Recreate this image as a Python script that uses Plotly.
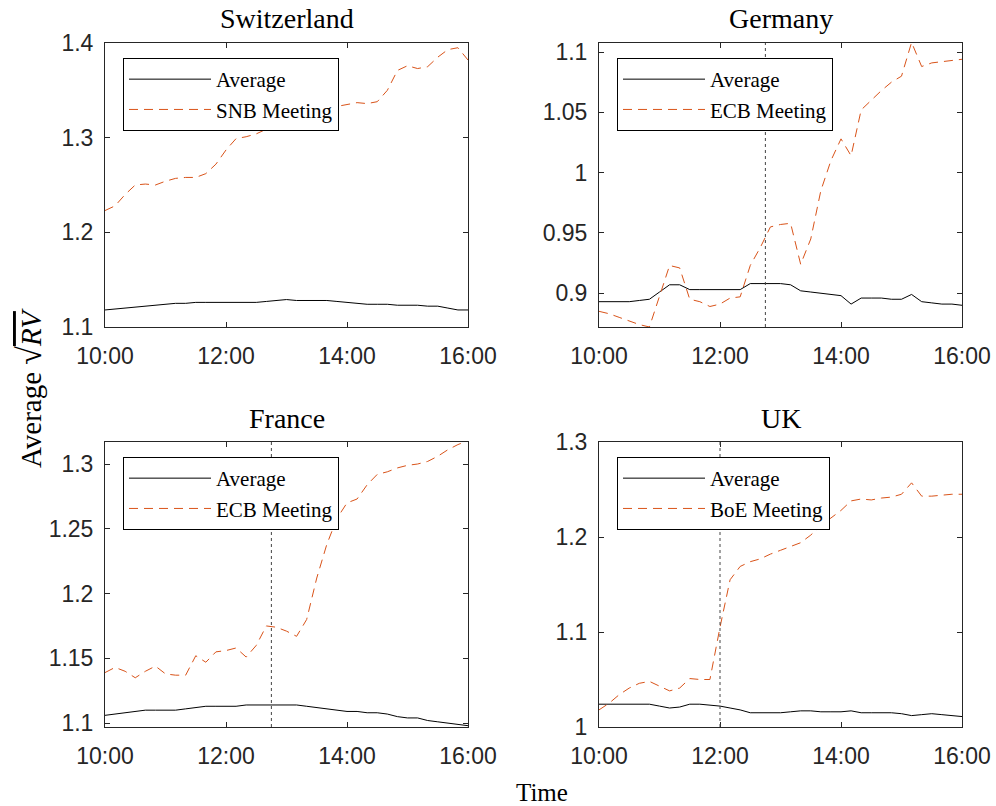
import plotly.graph_objects as go
from datetime import datetime, timedelta

# ---------------- data ----------------
time_labels = ["10:00", "12:00", "14:00", "16:00"]
start = datetime(2000, 1, 1, 10, 0)
times = [start + timedelta(minutes=10 * i) for i in range(37)]

che_avg = [1.118, 1.119, 1.120, 1.121, 1.122, 1.123, 1.124, 1.125, 1.125, 1.126, 1.126, 1.126,
           1.126, 1.126, 1.126, 1.126, 1.127, 1.128, 1.129, 1.128, 1.128, 1.128, 1.128, 1.127,
           1.126, 1.125, 1.124, 1.124, 1.124, 1.123, 1.123, 1.123, 1.122, 1.122, 1.120, 1.118, 1.118]
che_snb = [1.223, 1.228, 1.240, 1.250, 1.251, 1.250, 1.254, 1.257, 1.258, 1.258, 1.262, 1.272,
           1.287, 1.299, 1.301, 1.304, 1.309, 1.314, 1.320, 1.323, 1.326, 1.329, 1.331, 1.333,
           1.335, 1.337, 1.336, 1.338, 1.350, 1.371, 1.376, 1.373, 1.375, 1.385, 1.393, 1.395, 1.382]

deu_avg = [0.893, 0.893, 0.893, 0.893, 0.894, 0.895, 0.901, 0.907, 0.907, 0.903, 0.903, 0.903,
           0.903, 0.903, 0.903, 0.908, 0.908, 0.908, 0.908, 0.907, 0.902, 0.901, 0.900, 0.899,
           0.898, 0.891, 0.896, 0.896, 0.896, 0.895, 0.895, 0.899, 0.893, 0.892, 0.891, 0.891, 0.890]
deu_ecb = [0.885, 0.883, 0.880, 0.877, 0.874, 0.872, 0.897, 0.923, 0.921, 0.895, 0.893, 0.889,
           0.891, 0.896, 0.897, 0.923, 0.938, 0.955, 0.957, 0.958, 0.924, 0.945, 0.985, 1.010,
           1.028, 1.014, 1.052, 1.060, 1.068, 1.075, 1.080, 1.108, 1.088, 1.091, 1.092, 1.093, 1.094]

fra_avg = [1.106, 1.107, 1.108, 1.109, 1.110, 1.110, 1.110, 1.110, 1.111, 1.112, 1.113, 1.113,
           1.113, 1.113, 1.114, 1.114, 1.114, 1.114, 1.114, 1.114, 1.113, 1.112, 1.111, 1.110,
           1.109, 1.109, 1.108, 1.108, 1.107, 1.105, 1.104, 1.104, 1.102, 1.101, 1.100, 1.099, 1.098]
fra_ecb = [1.139, 1.143, 1.140, 1.135, 1.140, 1.144, 1.138, 1.137, 1.137, 1.152, 1.147, 1.155,
           1.156, 1.158, 1.151, 1.160, 1.175, 1.174, 1.171, 1.167, 1.180, 1.212, 1.238, 1.258,
           1.270, 1.273, 1.284, 1.292, 1.294, 1.297, 1.299, 1.300, 1.302, 1.306, 1.311, 1.315, 1.318]

gbr_avg = [1.024, 1.024, 1.024, 1.024, 1.024, 1.024, 1.022, 1.020, 1.021, 1.024, 1.024, 1.023,
           1.022, 1.020, 1.018, 1.015, 1.015, 1.015, 1.015, 1.016, 1.017, 1.017, 1.016, 1.016,
           1.016, 1.017, 1.015, 1.015, 1.015, 1.015, 1.014, 1.012, 1.013, 1.014, 1.013, 1.012, 1.011]
gbr_boe = [1.018, 1.025, 1.034, 1.041, 1.046, 1.048, 1.043, 1.038, 1.041, 1.051, 1.050, 1.050,
           1.105, 1.155, 1.169, 1.174, 1.177, 1.182, 1.186, 1.190, 1.194, 1.202, 1.212, 1.220,
           1.228, 1.238, 1.240, 1.239, 1.241, 1.242, 1.245, 1.257, 1.243, 1.243, 1.244, 1.245, 1.245]

panel_titles = ["Switzerland", "Germany", "France", "UK"]
meeting_names = ["SNB Meeting", "ECB Meeting", "ECB Meeting", "BoE Meeting"]
meeting_times = [None, "12:45", "12:45", "12:00"]
y_ranges = [[1.1, 1.4], [0.872, 1.1075], [1.097, 1.317], [1.0, 1.3]]
y_ticks = [[1.1, 1.2, 1.3, 1.4], [0.9, 0.95, 1.0, 1.05, 1.1],
           [1.1, 1.15, 1.2, 1.25, 1.3], [1.0, 1.1, 1.2, 1.3]]
y_ticktext = [["1.1", "1.2", "1.3", "1.4"], ["0.9", "0.95", "1", "1.05", "1.1"],
              ["1.1", "1.15", "1.2", "1.25", "1.3"], ["1", "1.1", "1.2", "1.3"]]
avg_series = [che_avg, deu_avg, fra_avg, gbr_avg]
meet_series = [che_snb, deu_ecb, fra_ecb, gbr_boe]

# ---------------- layout geometry (pixels) ----------------
W, H = 996, 806
x_px = [(105, 468), (599, 962), (105, 468), (599, 962)]
y_px = [(43, 327), (43, 327), (442, 727), (442, 727)]

SERIF = "Liberation Serif"
SANS = "Liberation Sans, Arial, sans-serif"
AXC = "#262626"
ORANGE = "#D95319"

def tstamp(hhmm):
    h, m = hhmm.split(":")
    return datetime(2000, 1, 1, int(h), int(m))

fig = go.Figure()
layout = dict(width=W, height=H, margin=dict(l=0, r=0, t=0, b=0, autoexpand=False),
              paper_bgcolor="white", plot_bgcolor="white", showlegend=True)
annotations = []
shapes = []

for i in range(4):
    n = i + 1
    xa = "x" if n == 1 else f"x{n}"
    ya = "y" if n == 1 else f"y{n}"
    lg = "legend" if n == 1 else f"legend{n}"
    fig.add_trace(go.Scatter(x=times, y=avg_series[i], mode="lines", name="Average",
                             line=dict(color="black", width=1), xaxis=xa, yaxis=ya,
                             legend=lg, hoverinfo="skip"))
    fig.add_trace(go.Scatter(x=times, y=meet_series[i], mode="lines", name=meeting_names[i],
                             line=dict(color=ORANGE, width=1, dash="9px,6px"), xaxis=xa, yaxis=ya,
                             legend=lg, hoverinfo="skip"))
    x0, x1 = x_px[i]
    y0, y1 = y_px[i]
    dom_x = [x0 / W, x1 / W]
    dom_y = [1 - y1 / H, 1 - y0 / H]
    xkey = "xaxis" if n == 1 else f"xaxis{n}"
    ykey = "yaxis" if n == 1 else f"yaxis{n}"
    layout[xkey] = dict(domain=dom_x, anchor=ya, type="date", automargin=False,
                        range=[tstamp("10:00"), tstamp("16:00")],
                        tickvals=[tstamp(t) for t in time_labels], ticktext=time_labels,
                        ticks="inside", ticklen=5, tickcolor=AXC, showline=True, linecolor=AXC,
                        linewidth=1, mirror="ticks", showgrid=False, zeroline=False,
                        ticklabelstandoff=8,
                        tickfont=dict(family=SANS, size=23, color=AXC))
    layout[ykey] = dict(domain=dom_y, anchor=xa, range=y_ranges[i], automargin=False,
                        tickvals=y_ticks[i], ticktext=y_ticktext[i],
                        ticks="inside", ticklen=5, tickcolor=AXC, showline=True, linecolor=AXC,
                        linewidth=1, mirror="ticks", showgrid=False, zeroline=False,
                        ticklabelstandoff=6,
                        tickfont=dict(family=SANS, size=23, color=AXC))
    layout[lg] = dict(x=(x0 + 18) / W, y=1 - (y0 + 15) / H, xanchor="left", yanchor="top",
                      bgcolor="white", bordercolor="black", borderwidth=1,
                      font=dict(family=SERIF, size=21, color="black"),
                      itemwidth=82, tracegroupgap=0)
    annotations.append(dict(text=panel_titles[i], x=(x0 + x1) / 2 / W, y=1 - (y0 - 24) / H,
                            xref="paper", yref="paper", showarrow=False,
                            xanchor="center", yanchor="middle",
                            font=dict(family=SERIF, size=28, color="black")))
    if meeting_times[i] is not None:
        shapes.append(dict(type="line", xref=xa, yref=f"{ya} domain",
                           x0=tstamp(meeting_times[i]), x1=tstamp(meeting_times[i]),
                           y0=0, y1=1, line=dict(color="#444444", width=1, dash="dot")))

annotations.append(dict(text="Time", x=542 / W, y=1 - 792 / H, xref="paper", yref="paper",
                        showarrow=False, xanchor="center", yanchor="middle",
                        font=dict(family=SERIF, size=25, color="black")))
annotations.append(dict(text="Average <span style=\"font-size:34px\">√</span>"
                             "<span style=\"text-decoration:overline\"><i>RV</i></span>",
                        x=29 / W, y=1 - 388 / H, xref="paper", yref="paper",
                        showarrow=False, xanchor="center", yanchor="middle", textangle=-90,
                        font=dict(family=SERIF, size=29, color="black")))

layout["annotations"] = annotations
layout["shapes"] = shapes
fig.update_layout(**layout)
fig.write_html("out.html")
